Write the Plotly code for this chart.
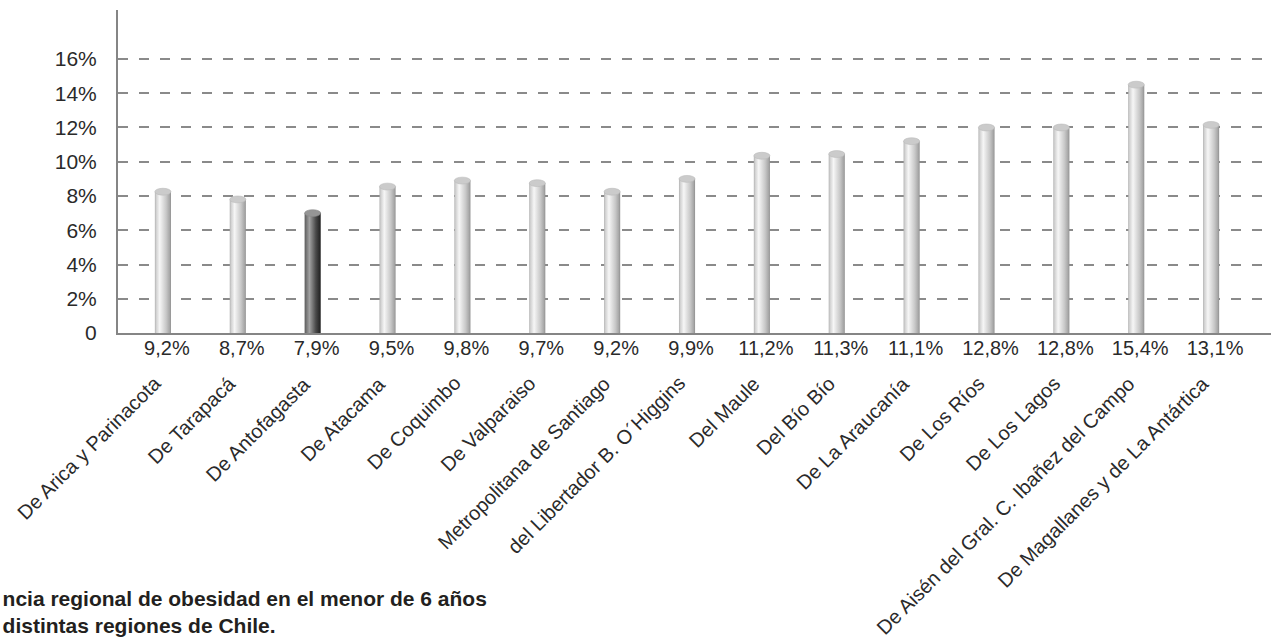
import plotly.graph_objects as go

# ---------------- data ----------------
regions = [
    "De Arica y Parinacota", "De Tarapacá", "De Antofagasta", "De Atacama",
    "De Coquimbo", "De Valparaiso", "Metropolitana de Santiago",
    "del Libertador B. O´Higgins", "Del Maule", "Del Bío Bío",
    "De La Araucanía", "De Los Ríos", "De Los Lagos",
    "De Aisén del Gral. C. Ibañez del Campo", "De Magallanes y de La Antártica",
]
bar_heights = [8.25, 7.8, 7.0, 8.55, 8.9, 8.75, 8.25, 9.0, 10.35, 10.45,
               11.2, 12.0, 12.0, 14.5, 12.15]
value_labels = ["9,2%", "8,7%", "7,9%", "9,5%", "9,8%", "9,7%", "9,2%", "9,9%",
                "11,2%", "11,3%", "11,1%", "12,8%", "12,8%", "15,4%", "13,1%"]
highlight_region = "De Antofagasta"
y_tick_vals = [0, 2, 4, 6, 8, 10, 12, 14, 16]
y_tick_text = ["0", "2%", "4%", "6%", "8%", "10%", "12%", "14%", "16%"]
title_lines = ["ncia regional de obesidad en el menor de 6 años",
               "distintas regiones de Chile."]

# ---------------- style ----------------
FONT = "Liberation Sans, Arial, Helvetica, sans-serif"
TEXT_COLOR = "#2a2a2a"
BAR_W = 0.215
CAP_H = 0.2
light_scale = [[0, "#b0b0b0"], [0.08, "#d0d0d0"], [0.3, "#f6f6f6"],
               [0.7, "#c8c8c8"], [0.92, "#a6a6a6"], [1, "#8e8e8e"]]
dark_scale = [[0, "#5a5a5a"], [0.08, "#6e6e6e"], [0.3, "#a2a2a2"],
              [0.7, "#4a4a4a"], [0.92, "#2a2a2a"], [1, "#1e1e1e"]]

fig = go.Figure()
shapes = []
for i, (reg, h) in enumerate(zip(regions, bar_heights)):
    dark = reg == highlight_region
    x0, x1 = i - BAR_W / 2, i + BAR_W / 2
    fig.add_trace(go.Scatter(
        x=[x0, x1, x1, x0, x0], y=[0, 0, h, h, 0],
        mode="lines", line=dict(width=0), fill="toself",
        fillgradient=dict(type="horizontal",
                          colorscale=dark_scale if dark else light_scale),
        hoverinfo="skip", showlegend=False,
    ))
    shapes.append(dict(
        type="circle", xref="x", yref="y",
        x0=x0, x1=x1, y0=h - CAP_H, y1=h + CAP_H,
        fillcolor="#959595" if dark else "#cbcbcb",
        line=dict(width=0.6, color="#8a8a8a" if dark else "#bababa"),
        layer="above",
    ))

annotations = []
for i, reg in enumerate(regions):
    annotations.append(dict(
        x=i, xref="x", y=-0.113, yref="paper",
        text=reg, showarrow=False, textangle=-45,
        xanchor="right", yanchor="top", xshift=5,
        font=dict(family=FONT, size=20, color=TEXT_COLOR),
    ))

fig.update_layout(
    width=1283, height=644, autosize=False,
    margin=dict(l=118, r=12, t=10, b=311),
    paper_bgcolor="white", plot_bgcolor="white",
    shapes=shapes, annotations=annotations,
    title=dict(
        text="<br>".join(title_lines),
        xref="container", yref="container", x=0.002, xanchor="left",
        y=1 - 606 / 644, yanchor="top",
        font=dict(family=FONT, size=21, color="#231f20", weight="bold"),
    ),
    xaxis=dict(
        range=[-0.6, 14.8], showgrid=False, zeroline=False,
        showline=True, linecolor="#858585", linewidth=2,
        tickmode="array", tickvals=list(range(len(regions))),
        ticktext=value_labels, ticks="", ticklabelshift=4, ticklabelstandoff=-4,
        tickfont=dict(family=FONT, size=20, color=TEXT_COLOR),
        fixedrange=True,
    ),
    yaxis=dict(
        range=[0, 18.86], showgrid=True, gridcolor="#8a8a8a", gridwidth=1.5,
        griddash="10px,11px", zeroline=False,
        showline=True, linecolor="#858585", linewidth=2,
        tickmode="array", tickvals=y_tick_vals, ticktext=y_tick_text,
        ticks="", ticklabelstandoff=15,
        tickfont=dict(family=FONT, size=21, color=TEXT_COLOR),
        fixedrange=True,
    ),
)

fig.write_html("out.html", config={"displayModeBar": False},
               post_script="document.body.style.margin='0';document.body.style.overflow='hidden';")
